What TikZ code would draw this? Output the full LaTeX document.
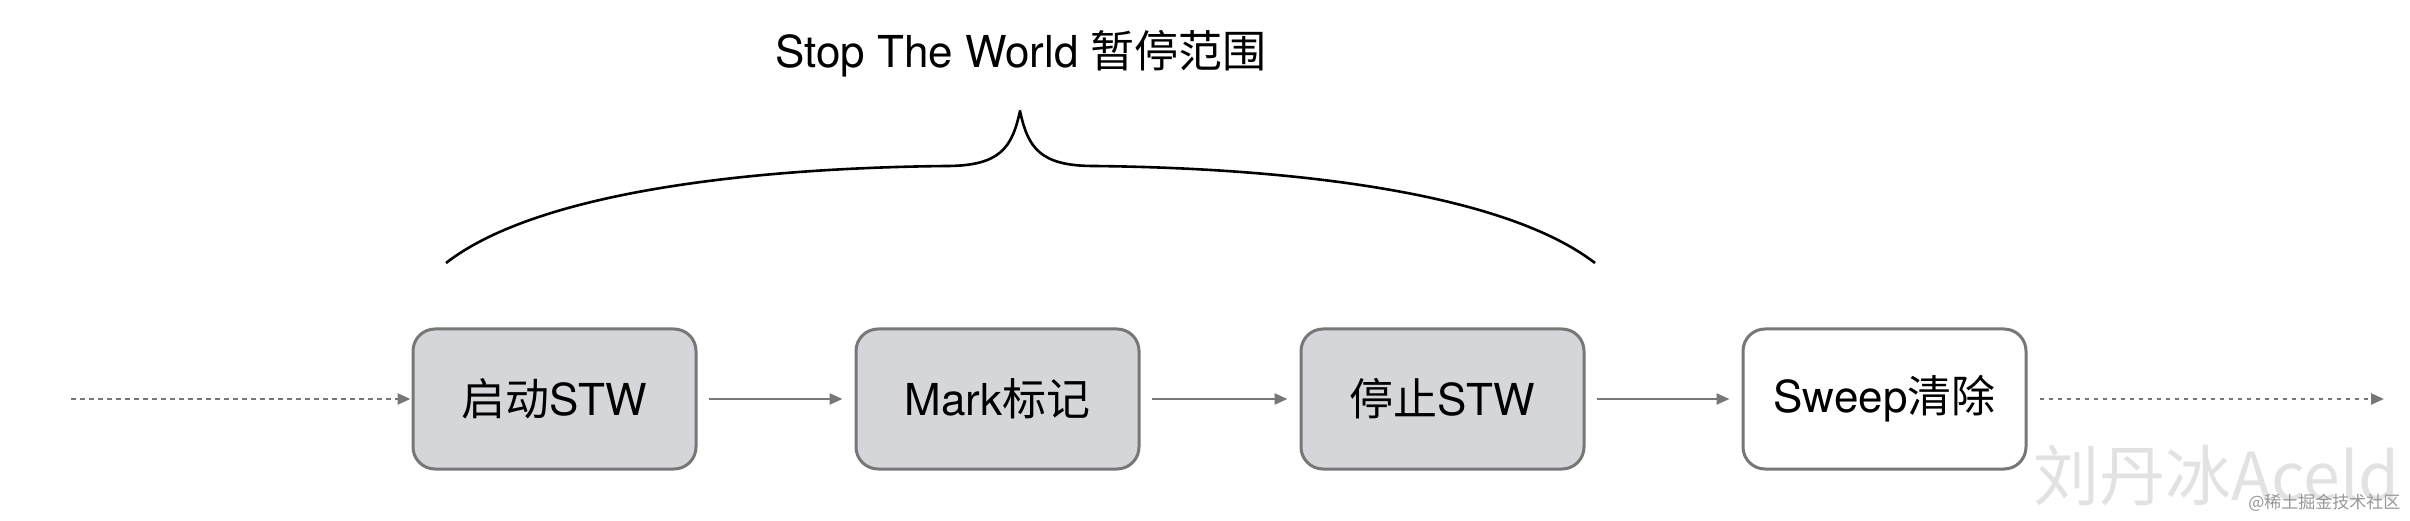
\documentclass[tikz,border=0pt]{standalone}
\usepackage{fontspec}
\setmainfont{TeX Gyre Heros}
\newfontfamily\cjk{Noto Sans CJK SC}
\usetikzlibrary{arrows.meta}
\definecolor{boxfill}{HTML}{D5D6D9}
\definecolor{boxline}{HTML}{777777}
\definecolor{wmfill}{HTML}{E2E2E2}
\definecolor{wmline}{HTML}{BDBDBD}
\tikzset{
  stepbox/.style={draw=boxline, line width=3pt, rounded corners=22pt, fill=boxfill,
    minimum width=283pt, minimum height=140pt, inner sep=0pt,
    font=\fontsize{44}{48}\selectfont},
  whitebox/.style={stepbox, fill=white},
  arr/.style={draw=boxline, line width=2.5pt, -{Triangle[length=13pt,width=11pt]}},
  dotarr/.style={arr, dash pattern=on 4.5pt off 4.5pt},
}
\begin{document}
\begin{tikzpicture}[x=1pt,y=1pt]
\useasboundingbox (0,0) rectangle (2410,520);
% boxes
\node[stepbox]  (b1) at (554.5,121) {{\cjk 启动}STW};
\node[stepbox]  (b2) at (997.5,121) {Mark{\cjk 标记}};
\node[stepbox]  (b3) at (1442.5,121) {{\cjk 停止}STW};
\node[whitebox] (b4) at (1884.5,121) {Sweep{\cjk 清除}};
\coordinate (start) at (71,121);
\coordinate (end) at (2384,121);
% connectors
\draw[dotarr, shorten >=1pt] (start) -- (b1.west);
\draw[arr, shorten <=11pt, shorten >=12pt] (b1.east) -- (b2.west);
\draw[arr, shorten <=11pt, shorten >=12pt] (b2.east) -- (b3.west);
\draw[arr, shorten <=11pt, shorten >=12pt] (b3.east) -- (b4.west);
\draw[dotarr, shorten <=12pt] (b4.east) -- (end);
% brace
\coordinate (bl) at (446,257);
\coordinate (br) at (1595,257);
\coordinate (tip) at (1020,409);
\draw[black, line width=2.6pt, line join=round]
  (bl) .. controls (540,330) and (760,352) .. (946,354)
  .. controls (1000,354) and (1012,372) .. (tip)
  .. controls (1028,372) and (1040,354) .. (1094,354)
  .. controls (1280,352) and (1500,330) .. (br);
% title
\node[font=\fontsize{44}{48}\selectfont] (title) at (1021,466) {Stop The World {\cjk 暂停范围}};
% watermark
\node[font=\fontsize{66}{70}\selectfont\cjk, text=wmfill, anchor=east, inner sep=0pt] (wm) at (2400,44) {刘丹冰Aceld};
\node[font=\fontsize{17}{18}\selectfont\cjk, text=wmline!80!black, anchor=east] (wm2) at (2404,17) {@稀土掘金技术社区};
\end{tikzpicture}
\end{document}
